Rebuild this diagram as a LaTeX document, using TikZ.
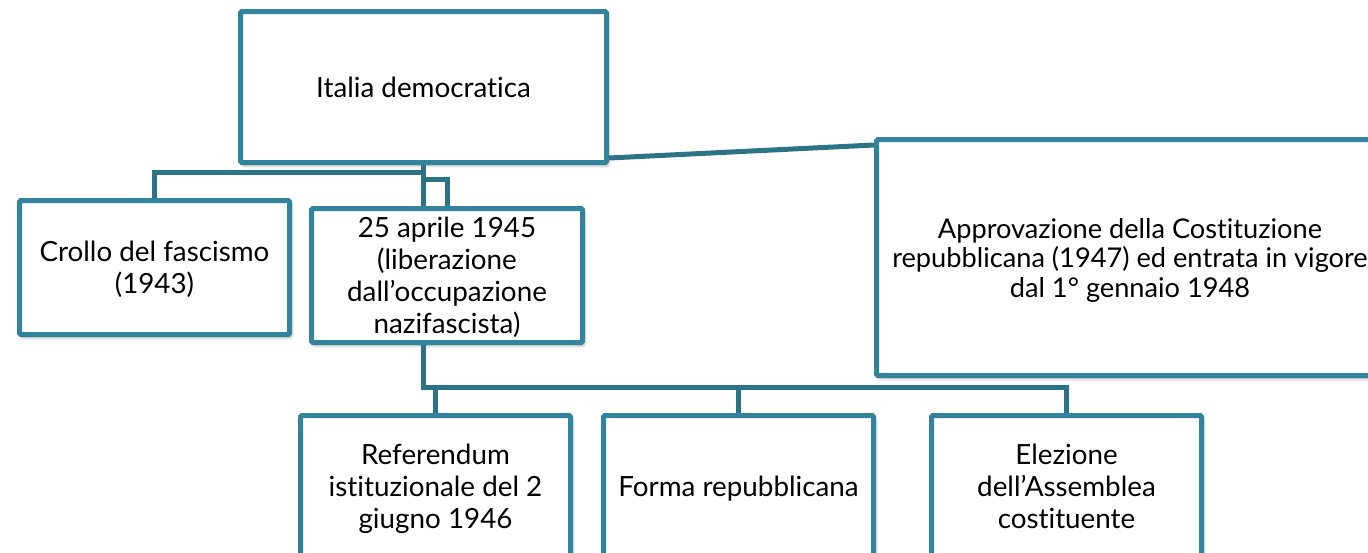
\documentclass[tikz,border=0pt]{standalone}
\usepackage{fontspec}
\setmainfont{Lato}[Ligatures={NoCommon,NoRequired,NoContextual}]
\usetikzlibrary{shadows.blur}
\definecolor{boxc}{HTML}{31849B}
\definecolor{linec}{HTML}{2C7385}
\tikzset{
  box/.style={draw=boxc, line width=5pt, fill=white, rounded corners=1.5pt,
    align=center, inner sep=0pt, text=black, text depth=0pt,
    blur shadow={shadow xshift=2pt, shadow yshift=-3pt, shadow blur radius=3pt, shadow opacity=35}},
  conn/.style={draw=linec, line width=5pt},
  big/.style={font=\fontsize{27.8}{32}\selectfont},
  mid/.style={font=\fontsize{27.2}{29.5}\selectfont},
}
\begin{document}
\begin{tikzpicture}[x=1pt,y=-1pt]
\useasboundingbox (0,0) rectangle (1368,552);
\clip (0,0) rectangle (1368,552);
\coordinate (j1) at (423.5,172.5);
\coordinate (j2) at (423.5,179.5);
\coordinate (j3) at (423.5,387.5);
\node[box, big, minimum width=366pt, minimum height=151pt] (b1) at (423.5,87) {Italia democratica};
\node[box, big, minimum width=270pt, minimum height=134pt] (cr) at (154.5,267.5) {Crollo del fascismo\\(1943)};
\node[box, big, minimum width=271pt, minimum height=134pt] (a25) at (447,275.5) {25 aprile 1945\\(liberazione\\dall’occupazione\\nazifascista)};
\node[box, mid, minimum width=507pt, minimum height=236pt] (ap) at (1130,257.5) {Approvazione della Costituzione\\repubblicana (1947) ed entrata in vigore\\dal 1° gennaio 1948};
\node[box, big, minimum width=270pt, minimum height=142pt] (rf) at (435.5,486.5) {Referendum\\istituzionale del 2\\giugno 1946};
\node[box, big, minimum width=270pt, minimum height=142pt] (fo) at (738.5,486.5) {Forma repubblicana};
\node[box, big, minimum width=270pt, minimum height=142pt] (el) at (1066.5,486.5) {Elezione\\dell’Assemblea\\costituente};
\draw[conn] (b1.south) -- (j1) -| (cr.north);
\draw[conn] (b1.south) -- (b1.south |- a25.north);
\draw[conn] (j2) -| (a25.north);
\draw[conn] ([yshift=7pt]b1.south east) -- ([yshift=-8pt]ap.north west);
\draw[conn] (a25.south -| j3) -- (j3) -| (el.north);
\draw[conn] (rf.north) -- (rf.north |- j3);
\draw[conn] (fo.north) -- (fo.north |- j3);
\end{tikzpicture}
\end{document}
